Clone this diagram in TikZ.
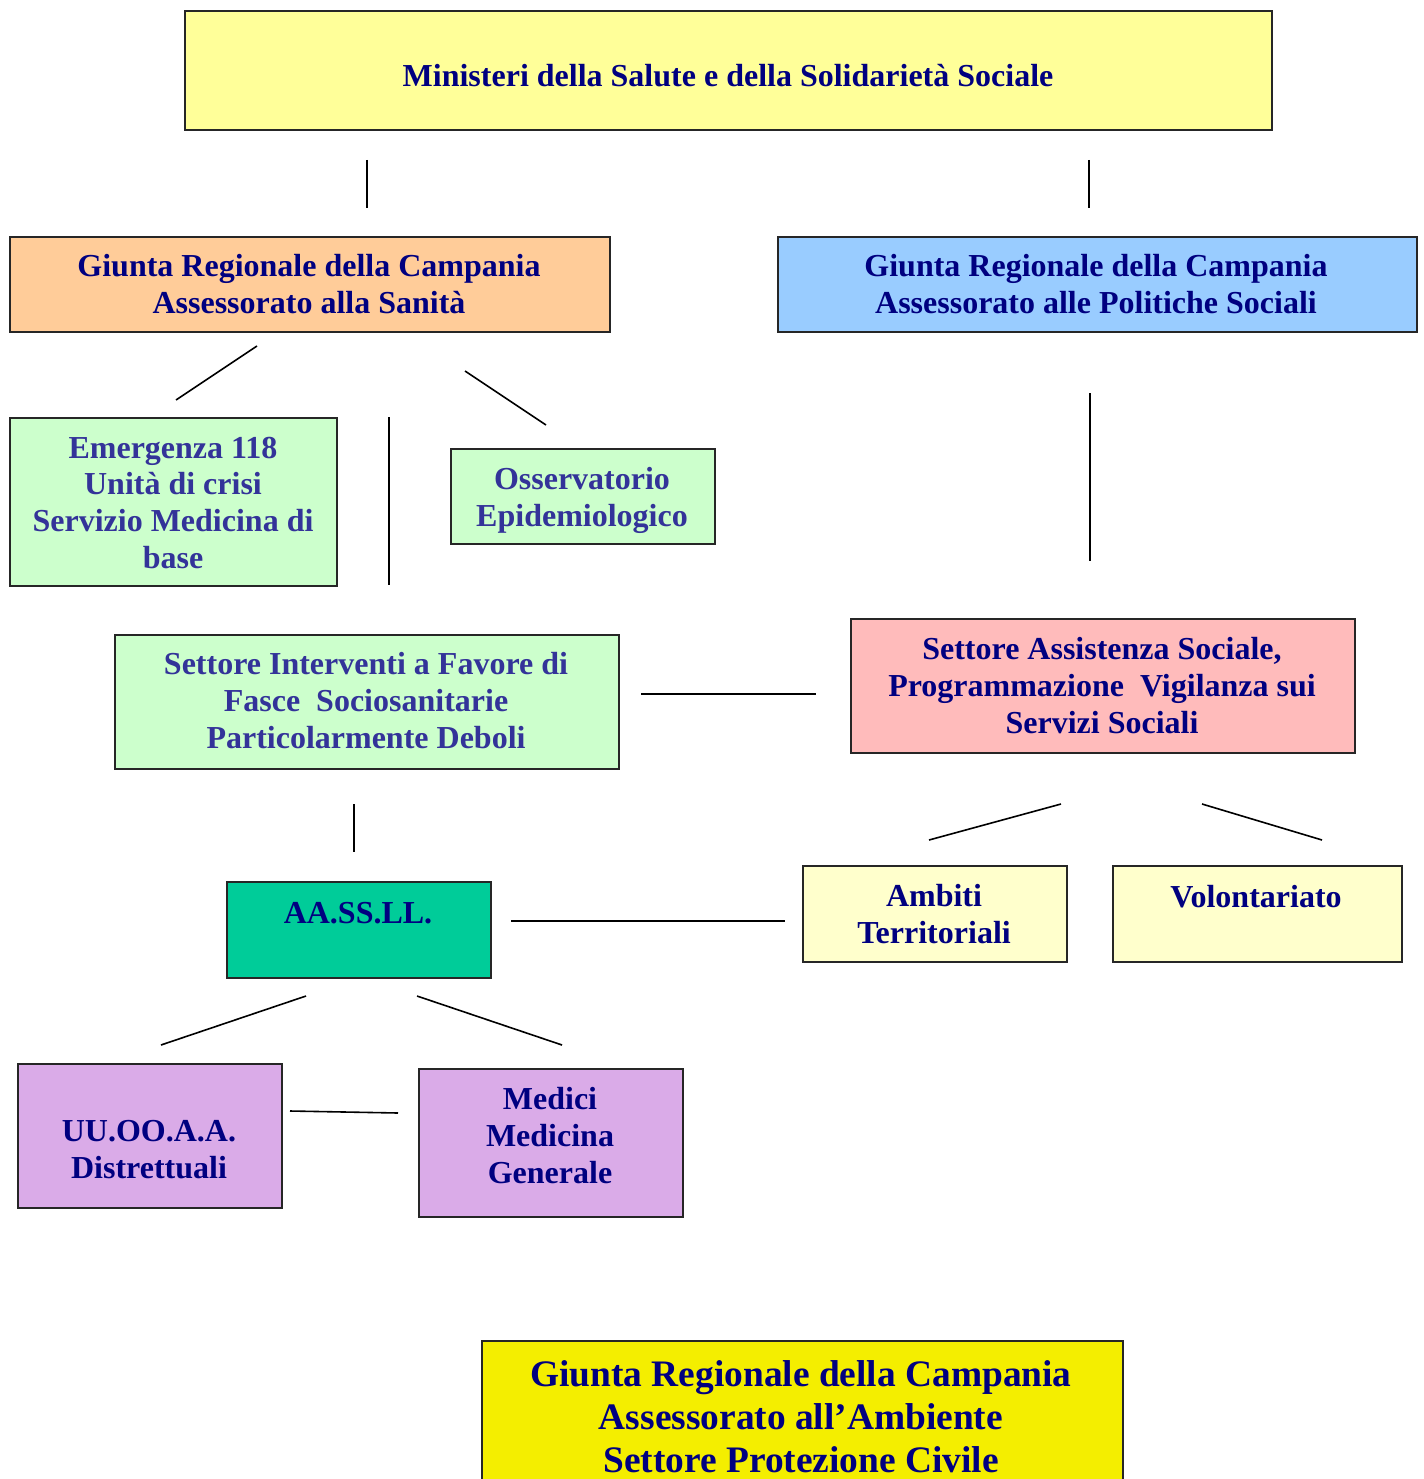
\documentclass[tikz,border=0pt]{standalone}
\usepackage{fontspec}
\setmainfont{Liberation Serif}
\definecolor{navy}{HTML}{000080}
\definecolor{slate}{HTML}{333399}
\definecolor{topyellow}{HTML}{FFFF99}
\definecolor{orangebox}{HTML}{FFCC99}
\definecolor{bluebox}{HTML}{99CCFF}
\definecolor{greenbox}{HTML}{CCFFCC}
\definecolor{pinkbox}{HTML}{FFBBBB}
\definecolor{creambox}{HTML}{FFFFCC}
\definecolor{tealbox}{HTML}{00CC99}
\definecolor{violetbox}{HTML}{DAABE8}
\definecolor{civilbox}{HTML}{F4EE00}
\begin{document}
\begin{tikzpicture}[x=1pt,y=-1pt,
  box/.style={draw=black!85, line width=1.8pt, inner sep=0pt, anchor=north west},
  txt/.style={font=\bfseries\fontsize{32}{36.8}\selectfont, align=center, text=navy, inner sep=0pt, yshift=-4pt},
  gtxt/.style={txt, text=slate},
  bigtxt/.style={txt, font=\bfseries\fontsize{37.4}{43}\selectfont},
  link/.style={line width=1.6pt, black}]
\useasboundingbox (0,0) rectangle (1423,1479);
\clip (0,0) rectangle (1423,1479);

% boxes
\node[box, fill=topyellow, minimum width=1087, minimum height=119] (top) at (184,10) {};
\node[box, fill=orangebox, minimum width=600, minimum height=95] (sanita) at (9,236) {};
\node[box, fill=bluebox, minimum width=639, minimum height=95] (sociali) at (777,236) {};
\node[box, fill=greenbox, minimum width=327, minimum height=168] (emerg) at (9,417) {};
\node[box, fill=greenbox, minimum width=264, minimum height=95] (osserv) at (450,448) {};
\node[box, fill=greenbox, minimum width=504, minimum height=134] (interv) at (114,634) {};
\node[box, fill=pinkbox, minimum width=504, minimum height=134] (assist) at (850,618) {};
\node[box, fill=creambox, minimum width=264, minimum height=96] (ambiti) at (802,865) {};
\node[box, fill=creambox, minimum width=289, minimum height=96] (volont) at (1112,865) {};
\node[box, fill=tealbox, minimum width=264, minimum height=96] (asl) at (226,881) {};
\node[box, fill=violetbox, minimum width=264, minimum height=144] (uuoo) at (17,1063) {};
\node[box, fill=violetbox, minimum width=264, minimum height=148] (medici) at (418,1068) {};
\node[box, fill=civilbox, minimum width=641, minimum height=200] (protciv) at (481,1340) {};

% texts
\node[txt] (ttop) at (728,75) {\strut Ministeri della Salute e della Solidarietà Sociale};
\node[txt] (tsanita) at (309,284) {\strut Giunta Regionale della Campania\\Assessorato alla Sanità\strut};
\node[txt] (tsociali) at (1096,284) {\strut Giunta Regionale della Campania\\Assessorato alle Politiche Sociali\strut};
\node[gtxt] (temerg) at (173,502) {\strut Emergenza 118\\Unità di crisi\\Servizio Medicina di\\base\strut};
\node[gtxt] (tosserv) at (582,497) {\strut Osservatorio\\Epidemiologico\strut};
\node[gtxt] (tinterv) at (366,700) {\strut Settore Interventi a Favore di\\Fasce\ \ Sociosanitarie\\Particolarmente Deboli\strut};
\node[txt] (tassist) at (1102,685) {\strut Settore Assistenza Sociale,\\Programmazione\ \ Vigilanza sui\\Servizi Sociali\strut};
\node[txt] (tambiti) at (934,914) {\strut Ambiti\\Territoriali\strut};
\node[txt] (tvolont) at (1256,896) {\strut Volontariato};
\node[txt] (tasl) at (358,912) {\strut AA.SS.LL.};
\node[txt] (tuuoo) at (149,1148.5) {\strut UU.OO.A.A.\\Distrettuali\strut};
\node[txt] (tmedici) at (550,1135) {\strut Medici\\Medicina\\Generale\strut};
\node[bigtxt] (tprotciv) at (801,1417) {\strut Giunta Regionale della Campania\\Assessorato all’Ambiente\\Settore Protezione Civile\strut};

% connector end points
\coordinate (a1) at (367,160);  \coordinate (a2) at (367,208);
\coordinate (b1) at (1089,160); \coordinate (b2) at (1089,208);
\coordinate (c1) at (257,346);  \coordinate (c2) at (176,400);
\coordinate (d1) at (465,371);  \coordinate (d2) at (546,425);
\coordinate (e1) at (389,417);  \coordinate (e2) at (389,585);
\coordinate (f1) at (1090,393); \coordinate (f2) at (1090,561);
\coordinate (g1) at (641,694);  \coordinate (g2) at (816,694);
\coordinate (h1) at (1061,804); \coordinate (h2) at (929,840);
\coordinate (i1) at (1202,804); \coordinate (i2) at (1322,840);
\coordinate (j1) at (354,804);  \coordinate (j2) at (354,852);
\coordinate (k1) at (511,921);  \coordinate (k2) at (785,921);
\coordinate (l1) at (306,996);  \coordinate (l2) at (161,1045);
\coordinate (m1) at (417,996);  \coordinate (m2) at (562,1045);
\coordinate (n1) at (290,1111); \coordinate (n2) at (398,1113);

\foreach \p in {a,b,c,d,e,f,g,h,i,j,k,l,m,n}
  \draw[link] (\p1) -- (\p2);
\end{tikzpicture}
\end{document}
